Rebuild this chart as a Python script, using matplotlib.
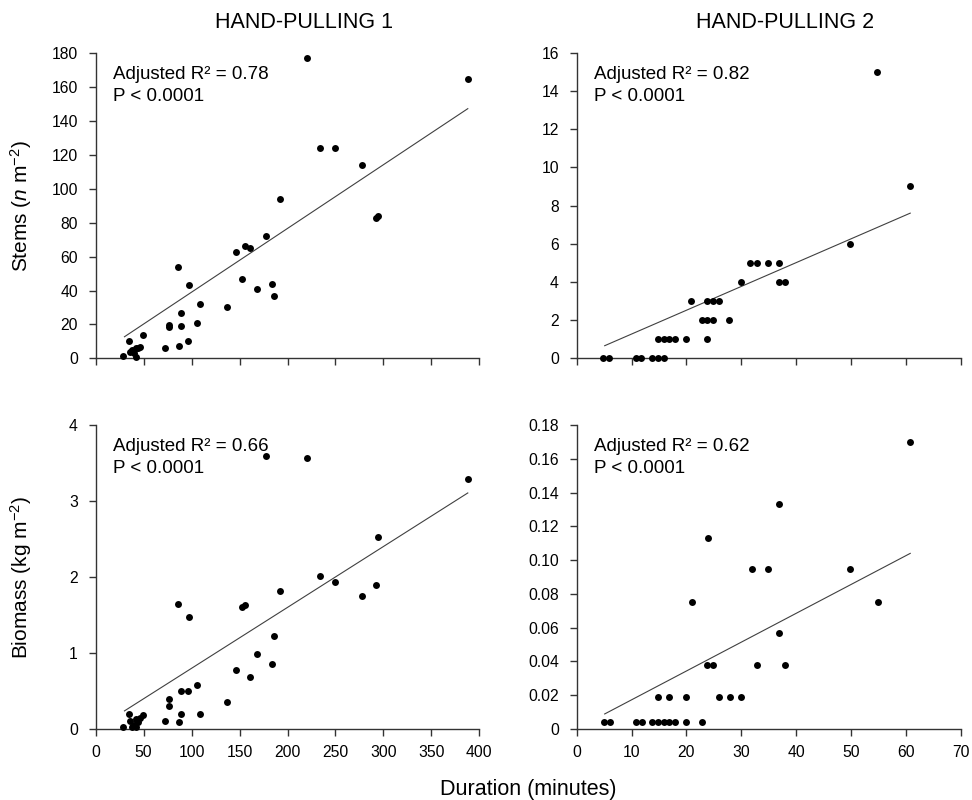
import numpy as np
import matplotlib
matplotlib.use("Agg")
import matplotlib.pyplot as plt

# Fonts
plt.rcParams['font.family'] = ['Liberation Sans', 'DejaVu Sans']
plt.rcParams['mathtext.fontset'] = 'custom'
plt.rcParams['mathtext.rm'] = 'Liberation Sans'
plt.rcParams['mathtext.it'] = 'Liberation Sans:italic'

# Data
# Hand-pulling 1 (same durations for stems and biomass)
hp1_duration = [28, 34.5, 35.5, 37.5, 40, 42, 42.5, 44.5, 46, 49,
                72.5, 76, 76.5, 85.5, 86.5, 88.5, 88.5, 96.5, 97.5, 106,
                109, 136.5, 146.5, 153, 156, 161, 168, 178, 183.5, 185.5,
                192.5, 220.5, 234, 250, 277.5, 292, 294, 388]
hp1_stems = [1.5, 10, 4, 5, 3, 1, 6, 6, 6.5, 14,
             6, 18.5, 19.5, 54, 7, 19, 27, 10, 43, 21,
             32, 30, 63, 47, 66, 65, 41, 72, 44, 37,
             94, 177, 124, 124, 114, 83, 84, 165]
hp1_biomass = [0.03, 0.2, 0.1, 0.02, 0.05, 0.03, 0.13, 0.09, 0.14, 0.18,
               0.11, 0.30, 0.39, 1.65, 0.09, 0.2, 0.5, 0.5, 1.47, 0.58,
               0.2, 0.35, 0.77, 1.6, 1.63, 0.69, 0.99, 3.59, 0.86, 1.22,
               1.81, 3.56, 2.01, 1.94, 1.75, 1.9, 2.52, 3.29]

# Hand-pulling 2
hp2_duration_stems = [4.8, 5.9, 10.8, 11.8, 13.8, 14.8, 15.9,
                      14.8, 15.9, 16.8, 17.9, 19.9, 23.8,
                      22.8, 23.8, 24.8, 27.8,
                      20.9, 23.8, 24.8, 25.9,
                      29.9, 36.8, 37.9,
                      31.6, 32.8, 34.9, 36.8,
                      49.9, 54.8, 60.8]
hp2_stems = [0, 0, 0, 0, 0, 0, 0,
             1, 1, 1, 1, 1, 1,
             2, 2, 2, 2,
             3, 3, 3, 3,
             4, 4, 4,
             5, 5, 5, 5,
             6, 15, 9]
hp2_duration_bio = [4.9, 6.0, 10.9, 11.9, 13.8, 14.9, 15.9, 16.9, 17.9, 19.9, 22.9,
                    14.9, 16.9, 19.9, 25.9, 27.9, 29.9,
                    23.8, 24.9, 32.9, 37.9,
                    36.9, 21.0, 54.9, 31.9, 34.9, 49.9, 23.9, 36.9, 60.8]
hp2_biomass = [0.004, 0.004, 0.004, 0.004, 0.004, 0.004, 0.004, 0.004, 0.004, 0.004, 0.004,
               0.019, 0.019, 0.019, 0.019, 0.019, 0.019,
               0.038, 0.038, 0.038, 0.038,
               0.057, 0.075, 0.075, 0.095, 0.095, 0.095, 0.113, 0.1335, 0.170]

# regression lines as drawn in the figure (intercept, slope, x range)
fit_hp1_stems = (1.44, 0.376, 30, 388)
fit_hp2_stems = (-0.008, 0.1251, 5.1, 60.8)
fit_hp1_bio = (-0.002, 0.00801, 30, 388)
fit_hp2_bio = (0.0002, 0.001707, 5.1, 60.8)

r2_labels = ["Adjusted R\u00b2 = 0.78", "Adjusted R\u00b2 = 0.82",
             "Adjusted R\u00b2 = 0.66", "Adjusted R\u00b2 = 0.62"]
p_label = "P < 0.0001"

fig = plt.figure(figsize=(9.72, 8), dpi=100)

W, H = 972, 800
def px_axes(x0, x1, y_top, y_bot):
    return fig.add_axes([x0 / W, 1 - y_bot / H, (x1 - x0) / W, (y_bot - y_top) / H])

ax_tl = px_axes(95.7, 479.3, 53.3, 358.3)
ax_tr = px_axes(576.7, 960.7, 53.3, 357.7)
ax_bl = px_axes(95.7, 479.3, 425, 729)
ax_br = px_axes(576.7, 960.7, 425, 729)

panels = [
    (ax_tl, hp1_duration, hp1_stems, fit_hp1_stems, (0, 400), np.arange(0, 401, 50), (0, 180), np.arange(0, 181, 20)),
    (ax_tr, hp2_duration_stems, hp2_stems, fit_hp2_stems, (0, 70), np.arange(0, 71, 10), (0, 16), np.arange(0, 17, 2)),
    (ax_bl, hp1_duration, hp1_biomass, fit_hp1_bio, (0, 400), np.arange(0, 401, 50), (0, 4), np.arange(0, 5, 1)),
    (ax_br, hp2_duration_bio, hp2_biomass, fit_hp2_bio, (0, 70), np.arange(0, 71, 10), (0, 0.18), np.arange(0, 0.181, 0.02)),
]

spine_col = '#333333'
for i, (ax, x, y, fit, xl, xt, yl, yt) in enumerate(panels):
    ax.scatter(x, y, s=25, color='black', zorder=3, clip_on=False, linewidths=0)
    a, b, x0, x1 = fit
    xs = np.array([x0, x1])
    ax.plot(xs, a + b * xs, color='#404040', lw=0.8)
    ax.set_xlim(*xl)
    ax.set_ylim(*yl)
    ax.set_xticks(xt)
    ax.set_yticks(yt)
    for s in ['top', 'right']:
        ax.spines[s].set_visible(False)
    for s in ['left', 'bottom']:
        ax.spines[s].set_color(spine_col)
        ax.spines[s].set_linewidth(1.0)
    ax.tick_params(direction='out', length=5.3, width=1.0, color=spine_col,
                   labelsize=11.3)
    ax.tick_params(axis='x', pad=6.5)
    ax.tick_params(axis='y', pad=7.5)
    if i < 2:
        ax.tick_params(axis='x', labelbottom=False)
    if i == 3:
        ax.set_yticklabels([f"{v:.2f}" if v > 0 else "0" for v in yt])
    ax.text(0.046, 0.915, r2_labels[i], transform=ax.transAxes, va='baseline',
            ha='left', fontsize=13.5)
    ax.text(0.046, 0.842, p_label, transform=ax.transAxes, va='baseline',
            ha='left', fontsize=13.5)

ax_tl.set_ylabel(r'Stems ($\it{n}$ m$^{-2}$)', fontsize=15)
ax_bl.set_ylabel(r'Biomass (kg m$^{-2}$)', fontsize=15)
ax_tl.yaxis.set_label_coords(-0.162, 0.5)
ax_bl.yaxis.set_label_coords(-0.162, 0.5)

fig.text(304 / W, 1 - 22 / H, 'HAND-PULLING 1', ha='center', va='center', fontsize=15.5)
fig.text(785 / W, 1 - 22 / H, 'HAND-PULLING 2', ha='center', va='center', fontsize=15.5)
fig.text(528 / W, 1 - 789 / H, 'Duration (minutes)', ha='center', va='center', fontsize=15.5)

fig.savefig('out.png', dpi=100)
